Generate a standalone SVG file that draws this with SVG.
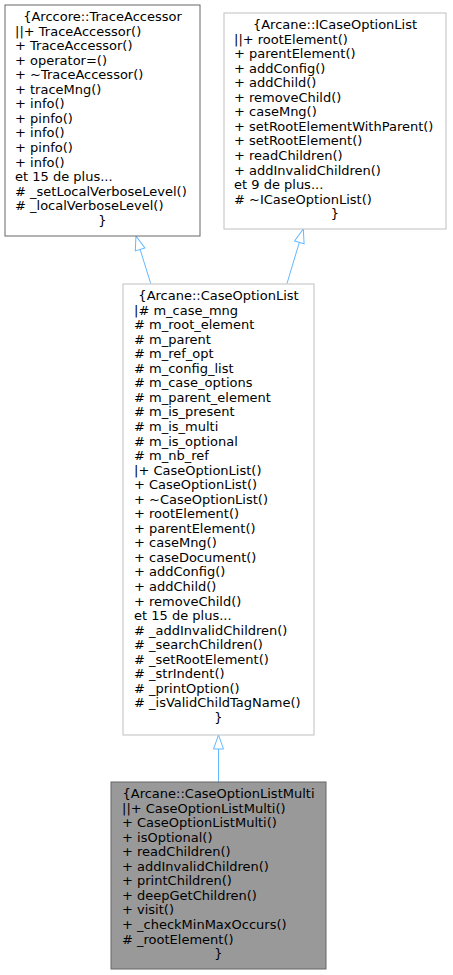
<svg xmlns="http://www.w3.org/2000/svg" width="453" height="975" viewBox="0 0 453 975">
<defs>
<style>
text{font-family:"DejaVu Sans","Liberation Sans",sans-serif;font-size:13px;fill:#000}
.c{text-anchor:middle}
.b1{fill:#fff;stroke:#666666;stroke-width:1}
.b2{fill:#fff;stroke:#bfbfbf;stroke-width:1}
.b4{fill:#999999;stroke:#666666;stroke-width:1}
.e{fill:none;stroke:#63b8ff;stroke-width:1}
</style>
<marker id="ah" markerUnits="userSpaceOnUse" markerWidth="16" markerHeight="12" refX="0" refY="5" orient="auto" overflow="visible">
<path d="M0,0 L14,5 L0,10 Z" fill="#fff" stroke="#63b8ff" stroke-width="1"/>
</marker>
</defs>
<rect width="453" height="975" fill="#fff"/>
<g id="edges">
<path class="e" d="M150.7,283.5 L140.1,249.4" marker-end="url(#ah)"/>
<path class="e" d="M287,283.5 L299.3,242.4" marker-end="url(#ah)"/>
<path class="e" d="M218.5,782 L218.5,749" marker-end="url(#ah)"/>
</g>
<g id="TraceAccessor">
<rect class="b1" x="5" y="5" width="195" height="231"/>
<text class="c" x="102.5" y="21">{Arccore::TraceAccessor</text>
<text x="15" y="21"><tspan x="15" dy="14.55">||+ TraceAccessor()</tspan><tspan x="15" dy="14.55">+ TraceAccessor()</tspan><tspan x="15" dy="14.55">+ operator=()</tspan><tspan x="15" dy="14.55">+ ~TraceAccessor()</tspan><tspan x="15" dy="14.55">+ traceMng()</tspan><tspan x="15" dy="14.55">+ info()</tspan><tspan x="15" dy="14.55">+ pinfo()</tspan><tspan x="15" dy="14.55">+ info()</tspan><tspan x="15" dy="14.55">+ pinfo()</tspan><tspan x="15" dy="14.55">+ info()</tspan><tspan x="15" dy="14.55">et 15 de plus...</tspan><tspan x="15" dy="14.55"># _setLocalVerboseLevel()</tspan><tspan x="15" dy="14.55"># _localVerboseLevel()</tspan></text>
<text class="c" x="102.5" y="224.7">}</text>
</g>
<g id="ICaseOptionList">
<rect class="b2" x="224" y="13" width="222" height="216"/>
<text class="c" x="335" y="29">{Arcane::ICaseOptionList</text>
<text x="234" y="29"><tspan x="234" dy="14.55">||+ rootElement()</tspan><tspan x="234" dy="14.55">+ parentElement()</tspan><tspan x="234" dy="14.55">+ addConfig()</tspan><tspan x="234" dy="14.55">+ addChild()</tspan><tspan x="234" dy="14.55">+ removeChild()</tspan><tspan x="234" dy="14.55">+ caseMng()</tspan><tspan x="234" dy="14.55">+ setRootElementWithParent()</tspan><tspan x="234" dy="14.55">+ setRootElement()</tspan><tspan x="234" dy="14.55">+ readChildren()</tspan><tspan x="234" dy="14.55">+ addInvalidChildren()</tspan><tspan x="234" dy="14.55">et 9 de plus...</tspan><tspan x="234" dy="14.55"># ~ICaseOptionList()</tspan></text>
<text class="c" x="335" y="218.2">}</text>
</g>
<g id="CaseOptionList">
<rect class="b2" x="123" y="284" width="191" height="451"/>
<text class="c" x="218.5" y="300">{Arcane::CaseOptionList</text>
<text x="134" y="300"><tspan x="134" dy="14.55">|# m_case_mng</tspan><tspan x="134" dy="14.55"># m_root_element</tspan><tspan x="134" dy="14.55"># m_parent</tspan><tspan x="134" dy="14.55"># m_ref_opt</tspan><tspan x="134" dy="14.55"># m_config_list</tspan><tspan x="134" dy="14.55"># m_case_options</tspan><tspan x="134" dy="14.55"># m_parent_element</tspan><tspan x="134" dy="14.55"># m_is_present</tspan><tspan x="134" dy="14.55"># m_is_multi</tspan><tspan x="134" dy="14.55"># m_is_optional</tspan><tspan x="134" dy="14.55"># m_nb_ref</tspan><tspan x="134" dy="14.55">|+ CaseOptionList()</tspan><tspan x="134" dy="14.55">+ CaseOptionList()</tspan><tspan x="134" dy="14.55">+ ~CaseOptionList()</tspan><tspan x="134" dy="14.55">+ rootElement()</tspan><tspan x="134" dy="14.55">+ parentElement()</tspan><tspan x="134" dy="14.55">+ caseMng()</tspan><tspan x="134" dy="14.55">+ caseDocument()</tspan><tspan x="134" dy="14.55">+ addConfig()</tspan><tspan x="134" dy="14.55">+ addChild()</tspan><tspan x="134" dy="14.55">+ removeChild()</tspan><tspan x="134" dy="14.55">et 15 de plus...</tspan><tspan x="134" dy="14.55"># _addInvalidChildren()</tspan><tspan x="134" dy="14.55"># _searchChildren()</tspan><tspan x="134" dy="14.55"># _setRootElement()</tspan><tspan x="134" dy="14.55"># _strIndent()</tspan><tspan x="134" dy="14.55"># _printOption()</tspan><tspan x="134" dy="14.55"># _isValidChildTagName()</tspan></text>
<text class="c" x="218.5" y="722">}</text>
</g>
<g id="CaseOptionListMulti">
<rect class="b4" x="111" y="782" width="215" height="187"/>
<text class="c" x="218.5" y="798">{Arcane::CaseOptionListMulti</text>
<text x="122" y="798"><tspan x="122" dy="14.55">||+ CaseOptionListMulti()</tspan><tspan x="122" dy="14.55">+ CaseOptionListMulti()</tspan><tspan x="122" dy="14.55">+ isOptional()</tspan><tspan x="122" dy="14.55">+ readChildren()</tspan><tspan x="122" dy="14.55">+ addInvalidChildren()</tspan><tspan x="122" dy="14.55">+ printChildren()</tspan><tspan x="122" dy="14.55">+ deepGetChildren()</tspan><tspan x="122" dy="14.55">+ visit()</tspan><tspan x="122" dy="14.55">+ _checkMinMaxOccurs()</tspan><tspan x="122" dy="14.55"># _rootElement()</tspan></text>
<text class="c" x="218.5" y="958">}</text>
</g>
</svg>
